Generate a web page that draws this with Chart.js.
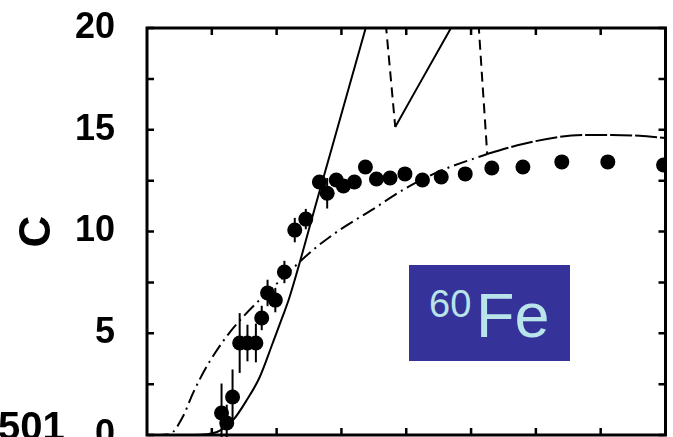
<!DOCTYPE html>
<html>
<head>
<meta charset="utf-8">
<script src="https://cdn.jsdelivr.net/npm/chart.js@4.4.1/dist/chart.umd.min.js"></script>
<style>
  html, body { margin: 0; padding: 0; background: #fff; overflow: hidden; }
  #wrap { position: relative; width: 673px; height: 470px; }
  #fe { position: absolute; left: 409px; top: 265px; width: 161px; height: 96px; background: #35339a; }
  .t { position: absolute; font-family: "Liberation Sans", Arial, sans-serif; color: #b8e4ea; line-height: 1; white-space: nowrap; }
  #s501 { position: absolute; left: -2px; top: 406px; font-family: "Liberation Sans", Arial, sans-serif; font-weight: bold; font-size: 40px; line-height: 1; color: #000; }
</style>
</head>
<body>
<div id="wrap">
  <canvas id="c"></canvas>
  <div id="fe">
    <span class="t" style="left:20px; top:20px; font-size:38px;">60</span><span class="t" style="left:67px; top:19px; font-size:63px;">Fe</span>
  </div>
  <div id="s501">501</div>
</div>
<script>
// ---- data ----
const ptX = [1.15, 1.23, 1.32, 1.43, 1.55, 1.68, 1.77, 1.86, 1.98, 2.12, 2.28, 2.45, 2.66, 2.78, 2.92, 3.03, 3.20, 3.37, 3.54, 3.75, 3.98, 4.25, 4.54, 4.91, 5.32, 5.80, 6.40, 7.11, 7.97];
const ptY = [1.08, 0.59, 1.87, 4.52, 4.52, 4.52, 5.75, 6.98, 6.63, 8.01, 10.07, 10.61, 12.43, 11.88, 12.53, 12.24, 12.43, 13.17, 12.58, 12.63, 12.83, 12.53, 12.68, 12.83, 13.12, 13.17, 13.42, 13.42, 13.27];
const ptErr = [1.45, 0.9, 1.35, 1.47, 0.9, 0.95, 0.6, 0.65, 0.6, 0.55, 0.6, 0.5, 0.3, 0.75, 0.3, 0.3, 0, 0, 0, 0, 0, 0, 0, 0, 0, 0, 0, 0, 0];

const solidX = [0.4, 0.71, 1.08, 1.33, 1.54, 1.74, 1.94, 2.09, 2.20, 2.62, 3.37, 3.46];
const solidY = [0, 0, 0.15, 0.74, 1.72, 2.85, 4.52, 5.8, 6.78, 11.5, 19.95, 21];

const dashDownX = [3.66, 3.69, 3.83];
const dashDownY = [21, 20, 15.14];
const solidUpX = [3.83, 4.69, 4.87];
const solidUpY = [15.14, 20, 21];
const dash2X = [5.10, 5.12, 5.25];
const dash2Y = [21, 20, 13.78];

const ddX = [0.12, 0.35, 0.55, 0.71, 0.89, 1.05, 1.28, 1.48, 1.69, 2.03, 2.56, 2.97, 3.47, 4.0, 4.56, 5.25];
const ddY = [0, 0.05, 0.88, 2.06, 3.19, 4.03, 5.06, 5.8, 6.49, 7.52, 9.09, 10.07, 11.06, 12.14, 13.02, 13.81];
const longX = [5.25, 5.8, 6.35, 6.8, 7.17, 7.6, 8.0];
const longY = [13.81, 14.3, 14.64, 14.74, 14.74, 14.7, 14.59];

const yTickValues = [0, 2.5, 5, 7.5, 10, 12.5, 15, 17.5, 20];
const xTickValues = [1, 2, 3, 4, 5, 6, 7];

const pts = (xs, ys) => xs.map((x, i) => ({ x: x, y: ys[i] }));

const lineDs = (xs, ys, dash, w) => ({
  data: pts(xs, ys), showLine: true, pointRadius: 0, borderColor: '#000',
  borderWidth: w, borderDash: dash, cubicInterpolationMode: 'monotone', fill: false
});

const frame = {
  id: 'frame',
  afterDatasetsDraw(chart) {
    const ctx = chart.ctx, a = chart.chartArea;
    const xs = chart.scales.x, ys = chart.scales.y;
    ctx.save();
    ctx.strokeStyle = '#000';
    ctx.lineWidth = 2;
    ptX.forEach((x, i) => {
      if (!ptErr[i]) return;
      const px = xs.getPixelForValue(x);
      ctx.beginPath();
      ctx.moveTo(px, ys.getPixelForValue(ptY[i] - ptErr[i]));
      ctx.lineTo(px, ys.getPixelForValue(ptY[i] + ptErr[i]));
      ctx.stroke();
    });
    ctx.lineWidth = 2.5;
    const L = 7;
    yTickValues.forEach(v => {
      const py = ys.getPixelForValue(v);
      ctx.beginPath();
      ctx.moveTo(a.left, py); ctx.lineTo(a.left + L, py);
      ctx.moveTo(a.right, py); ctx.lineTo(a.right - L, py);
      ctx.stroke();
    });
    xTickValues.forEach(v => {
      const px = xs.getPixelForValue(v);
      ctx.beginPath();
      ctx.moveTo(px, a.top); ctx.lineTo(px, a.top + L);
      ctx.moveTo(px, a.bottom); ctx.lineTo(px, a.bottom - L);
      ctx.stroke();
    });
    ctx.lineWidth = 3;
    ctx.strokeRect(a.left, a.top, a.right - a.left, a.bottom - a.top);
    ctx.restore();
  }
};

new Chart(document.getElementById('c'), {
  type: 'scatter',
  data: {
    datasets: [
      { data: pts(ptX, ptY), pointRadius: 7.5, pointHoverRadius: 7.5, backgroundColor: '#000', borderWidth: 0, showLine: false },
      lineDs(solidX, solidY, [], 2),
      lineDs(dashDownX, dashDownY, [10, 6], 2),
      lineDs(solidUpX, solidUpY, [], 2),
      lineDs(dash2X, dash2Y, [10, 6], 2),
      lineDs(ddX, ddY, [14, 5, 2, 5], 2),
      lineDs(longX, longY, [22, 3], 2)
    ]
  },
  options: {
    responsive: true,
    maintainAspectRatio: false,
    animation: false,
    events: [],
    layout: { padding: { top: 28, right: 7, left: 0, bottom: 0 } },
    plugins: { legend: { display: false }, tooltip: { enabled: false } },
    scales: {
      x: {
        type: 'linear', min: 0, max: 8,
        grid: { display: false, drawTicks: false },
        border: { display: false },
        ticks: { display: false, stepSize: 1 },
        afterFit(s) { s.height = 35; s.paddingLeft = 0; s.paddingRight = 0; }
      },
      y: {
        type: 'linear', min: 0, max: 20,
        grid: { display: false, drawTicks: false },
        border: { display: false },
        ticks: {
          stepSize: 2.5, autoSkip: false, padding: 32, color: '#000',
          font: { family: '"Liberation Sans", Arial, sans-serif', size: 36, weight: 'bold' },
          callback: v => (v % 5 === 0 ? String(v) : '')
        },
        title: {
          display: true, text: 'C', color: '#000',
          font: { family: '"Liberation Sans", Arial, sans-serif', size: 44, weight: 'bold' },
          padding: { top: 11, bottom: 0 }
        },
        afterFit(s) { s.width = 147; s.paddingTop = 0; s.paddingBottom = 0; }
      }
    }
  },
  plugins: [frame]
});
</script>
</body>
</html>
